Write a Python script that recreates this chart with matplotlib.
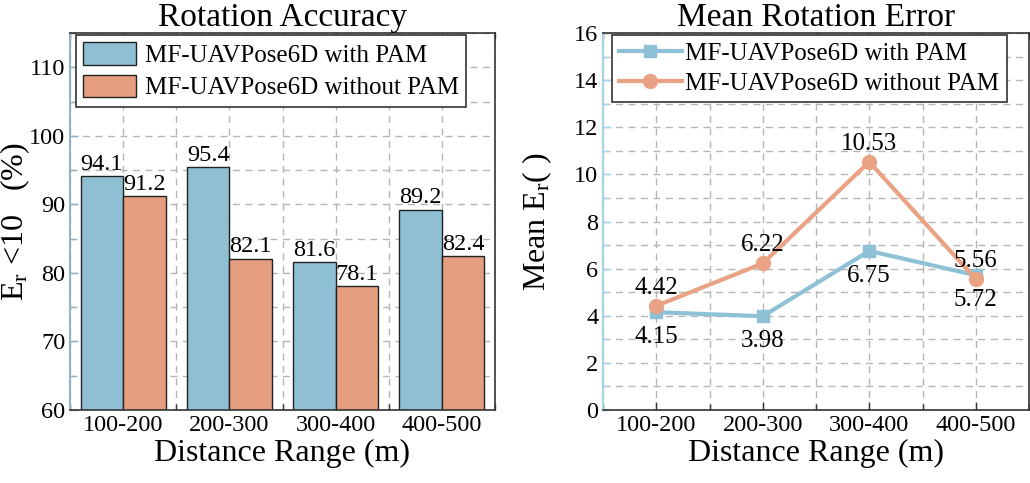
import matplotlib
matplotlib.use('Agg')
import matplotlib.pyplot as plt
import numpy as np
from matplotlib.ticker import MultipleLocator

plt.rcParams['font.family'] = ['Liberation Serif', 'DejaVu Serif']
plt.rcParams['mathtext.fontset'] = 'custom'
plt.rcParams['mathtext.rm'] = 'Liberation Serif'
plt.rcParams['mathtext.it'] = 'Liberation Serif:italic'

# data
ranges = ['100-200', '200-300', '300-400', '400-500']
acc_with = [94.1, 95.4, 81.6, 89.2]
acc_without = [91.2, 82.1, 78.1, 82.4]
err_with = [4.15, 3.98, 6.75, 5.72]
err_without = [4.42, 6.22, 10.53, 5.56]
labels = ['MF-UAVPose6D with PAM', 'MF-UAVPose6D without PAM']

blue = '#8fbfd3'
orange = '#e59e7f'
line_blue = '#8ec1d6'
line_orange = '#e9a283'

fig = plt.figure(figsize=(10.3, 4.83), dpi=100)
ax1 = fig.add_axes([70 / 1030, 73 / 483, 425 / 1030, 377 / 483])
ax2 = fig.add_axes([603 / 1030, 73 / 483, 426 / 1030, 377 / 483])

x = np.arange(len(ranges))
w = 0.4


def style(ax, spine_col):
    ax.set_axisbelow(True)
    ax.xaxis.set_minor_locator(MultipleLocator(0.5))
    ax.grid(True, which='both', ls=(0, (5, 4)), color='#b5b5b5', lw=1.0)
    ax.tick_params(which='both', direction='in', top=True, right=False,
                   labelsize=17.5, color='#333333')
    ax.tick_params(which='major', length=6, width=1)
    ax.tick_params(which='minor', length=4, width=1)
    ax.tick_params(axis='y', which='both', colors=spine_col, labelcolor='black')
    for s in ['top', 'right', 'bottom']:
        ax.spines[s].set_color('#333333')
        ax.spines[s].set_linewidth(1.2)
    ax.spines['left'].set_color(spine_col)
    ax.spines['left'].set_linewidth(1.5)
    ax.set_xlim(-0.5, 3.5)
    ax.set_xticks(x)
    ax.set_xticklabels(ranges)
    ax.set_xlabel('Distance Range (m)', fontsize=23, labelpad=2)


# left: rotation accuracy bars
style(ax1, '#8fb3c7')
b1 = ax1.bar(x - w / 2, acc_with, w, color=blue, edgecolor='#222222', lw=1, label=labels[0])
b2 = ax1.bar(x + w / 2, acc_without, w, color=orange, edgecolor='#222222', lw=1, label=labels[1])
ax1.bar_label(b1, fmt='%.1f', fontsize=17.5, padding=1)
ax1.bar_label(b2, fmt='%.1f', fontsize=17.5, padding=1)
ax1.set_ylim(60, 115)
ax1.yaxis.set_minor_locator(MultipleLocator(5))
ax1.set_yticks(np.arange(60, 111, 10))
ax1.set_ylabel(r'$\mathrm{E_r}$ <10   (%)', fontsize=23)
ax1.yaxis.set_label_coords(-0.09, 0.5)
ax1.set_title('Rotation Accuracy', fontsize=24, pad=3)
leg = ax1.legend(loc='upper left', fontsize=18, fancybox=False, edgecolor='#333333',
                 framealpha=1, handlelength=2.1, handleheight=1.0, handletextpad=0.35,
                 borderpad=0.3, labelspacing=0.3, borderaxespad=0.0,
                 bbox_to_anchor=(0.014, 0.995))
leg.get_frame().set_linewidth(1.2)

# right: mean rotation error lines
style(ax2, '#a8d3e4')
ax2.plot(x, err_with, color=line_blue, lw=3, marker='s', ms=9, label=labels[0])
ax2.plot(x, err_without, color=line_orange, lw=3, marker='o', ms=10, label=labels[1])
for xi, v in zip(x, err_with):
    ax2.annotate(f'{v:.2f}', (xi, v), xytext=(0, -10), textcoords='offset points',
                 ha='center', va='top', fontsize=18)
for xi, v in zip(x, err_without):
    ax2.annotate(f'{v:.2f}', (xi, v), xytext=(0, 5), textcoords='offset points',
                 ha='center', va='bottom', fontsize=18)
ax2.set_ylim(0, 16)
ax2.yaxis.set_major_locator(MultipleLocator(2))
ax2.yaxis.set_minor_locator(MultipleLocator(1))
ax2.set_ylabel(r'Mean $\mathrm{E_r}$( )', fontsize=23)
ax2.yaxis.set_label_coords(-0.115, 0.5)
ax2.set_title('Mean Rotation Error', fontsize=24, pad=3)
leg2 = ax2.legend(loc='upper left', fontsize=18, fancybox=False, edgecolor='#333333',
                  framealpha=1, handlelength=2.5, handletextpad=0.15, borderpad=0.3,
                  labelspacing=0.3, borderaxespad=0.0, bbox_to_anchor=(0.02, 0.995))
leg2.get_frame().set_linewidth(1.2)

fig.savefig('out.png', dpi=100)
